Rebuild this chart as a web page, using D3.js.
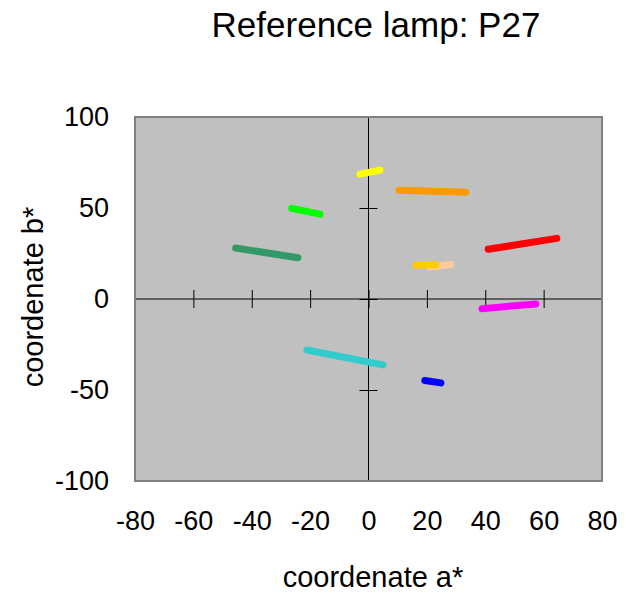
<!DOCTYPE html>
<html>
<head>
<meta charset="utf-8">
<script src="https://cdn.jsdelivr.net/npm/d3@7"></script>
<style>
  body { margin: 0; background: #fff; }
  text { font-family: "Liberation Sans", Arial, sans-serif; fill: #000; }
</style>
</head>
<body>
<div id="chart"></div>
<script>
// Reference lamp P27 - shift of each sample in the a*b* plane
var width = 626
var height = 598

// one segment per sample colour: start (a*, b*) -> end (a*, b*)
const series = ["tan", "seagreen", "lime", "yellow", "orange", "red", "gold", "magenta", "turquoise", "blue"]
const colors = ["#FFCC99", "#339966", "#00FF00", "#FFFF00", "#FF9900", "#FF0000", "#FFCC00", "#FF00FF", "#33CCCC", "#0000FF"]
const aStart = [21.0, -45.5, -26.3, -2.9, 10.4, 41.0, 16.3, 38.9, -21.1, 19.3]
const bStart = [17.6, 28.0, 49.8, 68.6, 59.8, 27.3, 18.5, -5.3, -28.0, -44.8]
const aEnd = [28.1, -24.2, -16.6, 3.9, 33.3, 64.5, 23.0, 57.3, 4.9, 24.8]
const bEnd = [19.0, 22.7, 46.6, 70.8, 58.7, 33.3, 18.8, -2.7, -36.2, -46.1]

const xTicks = [-80, -60, -40, -20, 0, 20, 40, 60, 80]
const yTicks = [-100, -50, 0, 50, 100]

const segments = series.map((s, i) => ({
  name: s, color: colors[i],
  a0: aStart[i], b0: bStart[i], a1: aEnd[i], b1: bEnd[i]
}))

const margin = {left: 135, right: 24, top: 117, bottom: 117}
const plotW = width - margin.left - margin.right
const plotH = 481 - margin.top

const svg = d3.select("#chart")
  .append("svg")
    .attr("width", width)
    .attr("height", height)

const x = d3.scaleLinear().domain([-80, 80]).range([margin.left, margin.left + plotW])
const y = d3.scaleLinear().domain([-100, 100]).range([margin.top + plotH, margin.top])

// fond gris de la zone de tracé
svg.append("rect")
  .attr("x", x(-80))
  .attr("y", y(100))
  .attr("width", x(80) - x(-80))
  .attr("height", y(-100) - y(100))
  .attr("fill", "#C0C0C0")

// axes croisés au point 0
svg.append("line")
  .attr("x1", x(-80)).attr("x2", x(80))
  .attr("y1", y(0)).attr("y2", y(0))
  .attr("stroke", "#000").attr("stroke-width", 1)
svg.append("line")
  .attr("x1", x(0)).attr("x2", x(0))
  .attr("y1", y(100)).attr("y2", y(-100))
  .attr("stroke", "#000").attr("stroke-width", 1)

// ticks qui traversent les axes
const xTickAxis = svg.append("g")
  .attr("transform", `translate(0,${y(0) - 9})`)
  .call(d3.axisBottom(x).tickValues(xTicks).tickSize(18).tickSizeOuter(0).tickFormat(""))
xTickAxis.select(".domain").remove()

const yTickAxis = svg.append("g")
  .attr("transform", `translate(${x(0) + 9},0)`)
  .call(d3.axisLeft(y).tickValues(yTicks).tickSize(18).tickSizeOuter(0).tickFormat(""))
yTickAxis.select(".domain").remove()

svg.selectAll(".tick line").attr("stroke", "#000")

// bordure
svg.append("rect")
  .attr("x", x(-80))
  .attr("y", y(100))
  .attr("width", x(80) - x(-80))
  .attr("height", y(-100) - y(100))
  .attr("fill", "none")
  .attr("stroke", "#808080")
  .attr("stroke-width", 2)

// labels des axes, en dehors de la zone (tiret simple comme l'original)
const xLab = svg.append("g")
  .attr("transform", `translate(0,${y(-100)})`)
  .call(d3.axisBottom(x).tickValues(xTicks).tickSize(0).tickPadding(30).tickFormat(d => String(d)))
xLab.select(".domain").remove()
xLab.selectAll("text").style("font-size", "27px").style("font-family", "Liberation Sans, Arial, sans-serif").attr("fill", "#000")

const yLab = svg.append("g")
  .attr("transform", `translate(${x(-80)},0)`)
  .call(d3.axisLeft(y).tickValues(yTicks).tickSize(0).tickPadding(26).tickFormat(d => String(d)))
yLab.select(".domain").remove()
yLab.selectAll("text").style("font-size", "27px").style("font-family", "Liberation Sans, Arial, sans-serif").attr("fill", "#000")

// segments
svg.append("g")
  .selectAll("line")
  .data(segments)
  .join("line")
    .attr("x1", d => x(d.a0))
    .attr("y1", d => y(d.b0))
    .attr("x2", d => x(d.a1))
    .attr("y2", d => y(d.b1))
    .attr("stroke", d => d.color)
    .attr("stroke-width", 7)
    .attr("stroke-linecap", "round")

// titres
svg.append("text")
  .attr("x", 376)
  .attr("y", 37)
  .attr("text-anchor", "middle")
  .style("font-size", "35px")
  .text("Reference lamp: P27")

svg.append("text")
  .attr("x", 373)
  .attr("y", 587)
  .attr("text-anchor", "middle")
  .style("font-size", "29px")
  .text("coordenate a*")

svg.append("text")
  .attr("transform", "translate(43,297) rotate(-90)")
  .attr("text-anchor", "middle")
  .style("font-size", "29px")
  .text("coordenate b*")
</script>
</body>
</html>
